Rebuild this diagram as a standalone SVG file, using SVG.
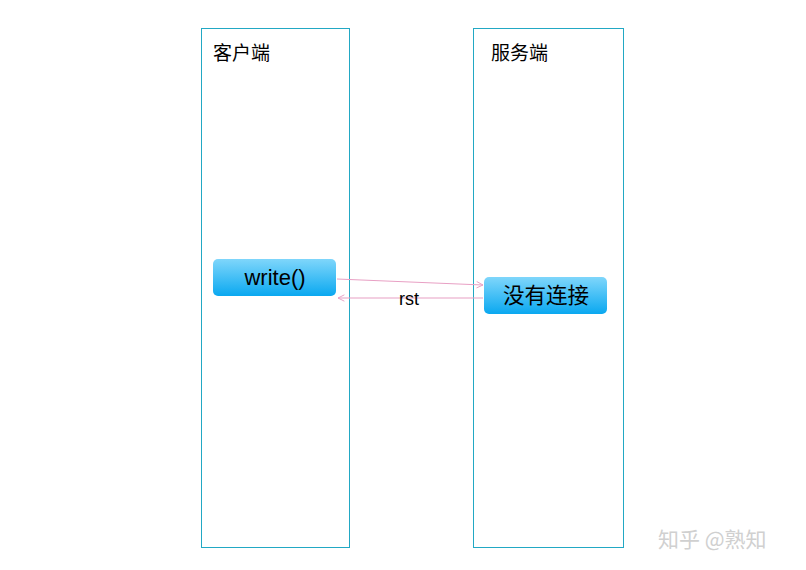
<svg xmlns="http://www.w3.org/2000/svg" width="806" height="570" viewBox="0 0 806 570">
<style>
.lane{fill:#fff;stroke:#22a8c4;stroke-width:1}
.t{font-family:"Liberation Sans","Noto Sans CJK SC",sans-serif;fill:#000}
.btn{fill:url(#g);}
.c{stroke:#e8a0c4;stroke-width:1.2;fill:none;marker-end:url(#a)}
</style>
<defs>
<linearGradient id="g" x1="0" y1="0" x2="0" y2="1"><stop offset="0" stop-color="#7fd6fb"/><stop offset="1" stop-color="#0aa8f0"/></linearGradient>
<marker id="a" viewBox="0 0 10 10" refX="9" refY="5" markerWidth="8" markerHeight="8" orient="auto" markerUnits="userSpaceOnUse"><path d="M1,1 L9,5 L1,9" fill="none" stroke="#e8a0c4" stroke-width="1.2"/></marker>
</defs>
<rect width="806" height="570" fill="#fff"/>
<g id="client"><rect class="lane" x="201.5" y="28.5" width="148" height="519"/><text class="t" x="213" y="60" font-size="19">客户端</text></g>
<g id="server"><rect class="lane" x="473.5" y="28.5" width="150" height="519"/><text class="t" x="491" y="60" font-size="19">服务端</text></g>
<g id="write"><rect class="btn" x="213" y="259" width="123" height="37" rx="5"/><text class="t" x="275" y="285" font-size="22" text-anchor="middle">write()</text></g>
<g id="noconn"><rect class="btn" x="484" y="277" width="123" height="37" rx="5"/><text class="t" x="546" y="303" font-size="21.5" text-anchor="middle">没有连接</text></g>
<g id="connectors">
<line class="c" x1="337" y1="279" x2="483" y2="285"/>
<line class="c" x1="483" y1="298" x2="338" y2="298"/>
<text class="t" x="409" y="305" font-size="18" text-anchor="middle">rst</text>
</g>
<text x="658" y="547" font-size="21" fill="#d0d0d0" font-family="Noto Sans CJK SC,sans-serif">知乎 @熟知</text>
</svg>
